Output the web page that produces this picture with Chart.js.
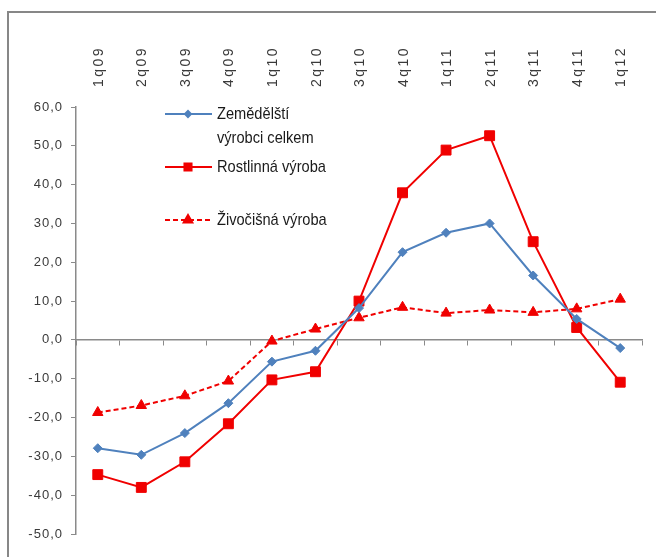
<!DOCTYPE html>
<html>
<head>
<meta charset="utf-8">
<script src="https://cdn.jsdelivr.net/npm/chart.js@4.4.1/dist/chart.umd.min.js"></script>
<style>
  body { margin: 0; background: #fff; }
  #wrap { position: relative; width: 656px; height: 557px; }
  #frame { position: absolute; left: 7px; top: 11px; right: -10px; bottom: -10px;
           border-left: 2.5px solid #878787; border-top: 2.5px solid #878787; }
  canvas { position: absolute; left: 0; top: 0; }
</style>
</head>
<body>
<div id="wrap">
  <div id="frame"></div>
  <canvas id="chart" width="656" height="557"></canvas>
</div>
<script>
// Start Data
const quarters = ['1q09', '2q09', '3q09', '4q09', '1q10', '2q10', '3q10', '4q10', '1q11', '2q11', '3q11', '4q11', '1q12'];
const celkem = [-27.9, -29.6, -24.0, -16.3, -5.6, -2.8, 8.2, 22.6, 27.6, 30.0, 16.6, 5.4, -2.1];
const rostlinna = [-34.7, -38.0, -31.4, -21.6, -10.3, -8.2, 10.0, 37.9, 48.9, 52.6, 25.3, 3.2, -10.9];
const zivocisna = [-18.7, -16.9, -14.4, -10.6, -0.3, 2.8, 5.7, 8.4, 6.9, 7.7, 7.1, 8.0, 10.5];
const seriesNames = [['Zemědělští', 'výrobci celkem'], ['Rostlinná výroba'], ['Živočišná výroba']];
const yMin = -50, yMax = 60, yStep = 10;
// End Data

const blue = '#4F81BD';
const red = '#F00000';
const axisGray = '#8a8a8a';
const textGray = '#3a3a3a';

// letter spacing for axis labels (the source text is drawn quite wide)
function spaceLabels(scale, spacing) {
  if (scale._spaced) return;
  const orig = scale.drawLabels.bind(scale);
  scale.drawLabels = function(area) {
    const ctx = this.ctx;
    ctx.letterSpacing = spacing;
    orig(area);
    ctx.letterSpacing = '0px';
  };
  scale._spaced = true;
}

// Start Legend
const insideLegend = {
  id: 'insideLegend',
  beforeDraw(chart) {
    spaceLabels(chart.scales.x2, '2.5px');
    spaceLabels(chart.scales.y, '1px');
  },
  afterDatasetsDraw(chart) {
    const ctx = chart.ctx;
    const rows = [114, 167, 220];
    const sizes = [3, 5, 5];
    chart.data.datasets.forEach(function(ds, i) {
      const y = rows[i];
      ctx.save();
      ctx.strokeStyle = ds.borderColor;
      ctx.lineWidth = 2;
      ctx.setLineDash(ds.borderDash || []);
      ctx.beginPath();
      ctx.moveTo(165, y);
      ctx.lineTo(212, y);
      ctx.stroke();
      ctx.setLineDash([]);
      ctx.fillStyle = ds.backgroundColor;
      Chart.helpers.drawPoint(ctx, { pointStyle: ds.pointStyle, radius: sizes[i], borderWidth: 1 }, 188, y);
      ctx.fill();
      // narrow text, like the original legend
      ctx.fillStyle = '#1a1a1a';
      ctx.font = '17px "Liberation Sans", Arial, sans-serif';
      ctx.textBaseline = 'middle';
      ctx.translate(217, y);
      ctx.scale(0.86, 1);
      seriesNames[i].forEach(function(line, k) {
        ctx.fillText(line, 0, k * 24);
      });
      ctx.restore();
    });
  }
};
// End Legend

const ctx = document.getElementById('chart');
new Chart(ctx, {
  type: 'line',
  data: {
    labels: quarters,
    datasets: [{
      label: seriesNames[0].join(' '),
      data: celkem,
      borderColor: blue,
      backgroundColor: blue,
      borderWidth: 2,
      pointStyle: 'rectRot',
      pointRadius: 4.5,
      pointBorderWidth: 1,
      tension: 0
    }, {
      label: seriesNames[1][0],
      data: rostlinna,
      borderColor: red,
      backgroundColor: red,
      borderWidth: 2,
      pointStyle: 'rect',
      pointRadius: 7,
      pointBorderWidth: 1,
      tension: 0
    }, {
      label: seriesNames[2][0],
      data: zivocisna,
      borderColor: red,
      backgroundColor: red,
      borderWidth: 2,
      borderDash: [5, 3],
      pointStyle: 'triangle',
      pointRadius: 6,
      pointBorderWidth: 1,
      tension: 0
    }]
  },
  options: {
    responsive: false,
    animation: false,
    layout: { padding: { left: 0, right: 14, top: 0, bottom: 23 } },
    plugins: { legend: { display: false }, tooltip: { enabled: false } },
    scales: {
      x: {
        type: 'category',
        position: { y: 0 },
        offset: true,
        grid: { drawOnChartArea: false, drawTicks: true, tickLength: 5, color: axisGray, offset: true },
        border: { color: axisGray, width: 1.5 },
        ticks: { display: false }
      },
      x2: {
        type: 'category',
        position: 'top',
        offset: true,
        grid: { display: false },
        border: { display: false },
        ticks: {
          color: textGray,
          font: { family: '"Liberation Sans", Arial, sans-serif', size: 14 },
          minRotation: 90,
          maxRotation: 90,
          padding: 12,
          labelOffset: 18,
          autoSkip: false
        },
        afterFit(scale) { scale.height = 107; }
      },
      y: {
        min: yMin,
        max: yMax,
        grid: { drawOnChartArea: false, drawTicks: true, tickLength: 5, color: axisGray },
        border: { color: axisGray, width: 1.5 },
        ticks: {
          stepSize: yStep,
          color: textGray,
          padding: 8,
          font: { family: '"Liberation Sans", Arial, sans-serif', size: 13 },
          callback: function(v) { return v.toFixed(1).replace('.', ','); }
        },
        afterFit(scale) { scale.width = 76; }
      }
    }
  },
  plugins: [insideLegend]
});
</script>
</body>
</html>
